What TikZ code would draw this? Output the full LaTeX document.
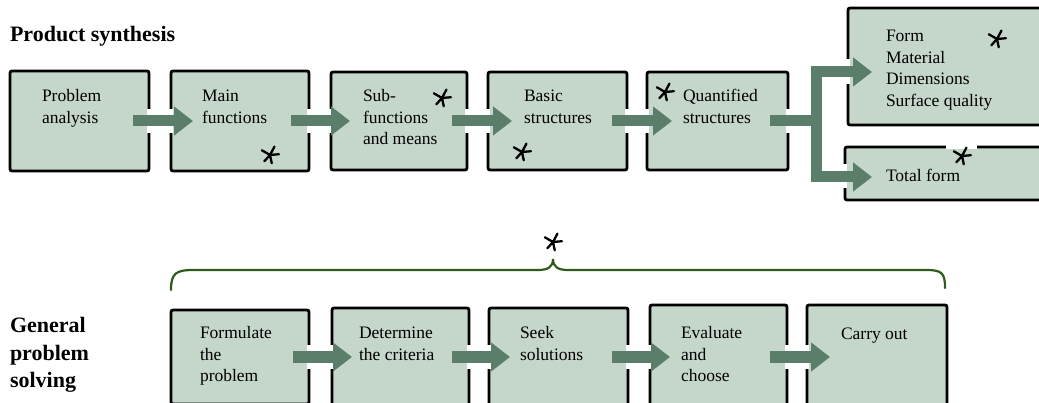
\documentclass[tikz,border=0pt]{standalone}
\usepackage{fontspec}
\setmainfont{Liberation Serif}
\usetikzlibrary{arrows.meta}

\definecolor{boxfill}{HTML}{C5D6CB}
\definecolor{flow}{HTML}{5B7E6A}
\definecolor{bracegreen}{HTML}{2F5A1C}

% several lines of text, baseline at the first line
\newcommand{\stacked}[1]{\parbox[t]{220pt}{\raggedright #1}}

\tikzset{
  stepbox/.style={draw=black, line width=2.8pt, fill=boxfill, rounded corners=2pt,
    inner sep=0pt, outer sep=0pt},
  boxtext/.style={anchor=base west, inner sep=0pt, outer sep=0pt,
    font=\fontsize{17.5}{21.5}\selectfont},
  headtext/.style={anchor=base west, inner sep=0pt, outer sep=0pt,
    font=\bfseries\fontsize{22}{27.5}\selectfont},
  flowarrow/.style={draw=flow, line width=11pt, line join=miter,
    -{Triangle[length=19pt,width=28pt]}},
  bordergap/.style={draw=white, line width=4.2pt},
  braceline/.style={draw=bracegreen, line width=2.2pt, line cap=round},
  sketchstar/.pic={
    \draw[line width=2.3pt, line cap=round]
      (0,0) -- (-62:9.5) (0,0) -- (-150:9.5) (0,0) -- (-5:9)
      (0,0) -- (-228:8.5) (0,0) -- (-282:8.5);
  }
}

\begin{document}
\begin{tikzpicture}[x=1pt, y=-1pt]
\useasboundingbox (0,0) rectangle (1039,403);
\clip (0,0) rectangle (1039,403);

% ---------- product synthesis ----------
\node[headtext] (title1) at (10,42) {Product synthesis};

\node[stepbox, minimum width=139pt, minimum height=100pt] (p1) at (79.5,121) {};
\node[stepbox, minimum width=138pt, minimum height=100pt] (p2) at (240,121) {};
\node[stepbox, minimum width=136pt, minimum height=98pt] (p3) at (399,121) {};
\node[stepbox, minimum width=139pt, minimum height=98pt] (p4) at (557.5,121) {};
\node[stepbox, minimum width=141pt, minimum height=98pt] (p5) at (717.5,121) {};
\node[stepbox, minimum width=212pt, minimum height=117pt] (p6) at (954,66.5) {};
\node[stepbox, minimum width=215pt, minimum height=53pt] (p7) at (952.5,173.5) {};

% ---------- general problem solving ----------
\node[headtext] (title2) at (10,333) {\stacked{General\\problem\\solving}};

\node[stepbox, minimum width=138pt, minimum height=94pt] (g1) at (240,357) {};
\node[stepbox, minimum width=137pt, minimum height=98pt] (g2) at (400.5,357) {};
\node[stepbox, minimum width=139pt, minimum height=98pt] (g3) at (558.5,357) {};
\node[stepbox, minimum width=137pt, minimum height=104pt] (g4) at (718.5,357) {};
\node[stepbox, minimum width=140pt, minimum height=104pt] (g5) at (877,357) {};

% breaks in the borders where the arrows pass
\foreach \b in {p1,p2,p3,p4,p5,g1,g2,g3,g4}
  \draw[bordergap] ([yshift=12pt]\b.east) -- ([yshift=-12pt]\b.east);
\foreach \b in {p2,p3,p4,p5,g2,g3,g4,g5}
  \draw[bordergap] ([yshift=12pt]\b.west) -- ([yshift=-12pt]\b.west);
\draw[bordergap] ([yshift=7pt]p6.west) -- ([yshift=-18pt]p6.west);
\draw[bordergap] ([yshift=9pt]p7.west) -- ([yshift=-15pt]p7.west);
\draw[bordergap] ([xshift=101pt]p7.north west) -- ([xshift=132pt]p7.north west);

% box texts
\node[boxtext] (t1) at (42,102) {\stacked{Problem\\analysis}};
\node[boxtext] (t2) at (202,102) {\stacked{Main\\functions}};
\node[boxtext] (t3) at (363,102) {\stacked{Sub-\\functions\\and means}};
\node[boxtext] (t4) at (524,102) {\stacked{Basic\\structures}};
\node[boxtext] (t5) at (683,102) {\stacked{Quantified\\structures}};
\node[boxtext] (t6) at (886,42) {\stacked{Form\\Material\\Dimensions\\Surface quality}};
\node[boxtext] (t7) at (886,182) {Total form};

\node[boxtext] (u1) at (200,339) {\stacked{Formulate\\the\\problem}};
\node[boxtext] (u2) at (359,339) {\stacked{Determine\\the criteria}};
\node[boxtext] (u3) at (520,339) {\stacked{Seek\\solutions}};
\node[boxtext] (u4) at (681,339) {\stacked{Evaluate\\and\\choose}};
\node[boxtext] (u5) at (841,340) {Carry out};

% flow arrows, top row
\draw[flowarrow] ([xshift=-16pt]p1.east) -- ([xshift=22pt]p2.west);
\draw[flowarrow] ([xshift=-18pt]p2.east) -- ([xshift=19pt]p3.west);
\draw[flowarrow] ([xshift=-15pt]p3.east) -- ([xshift=24pt]p4.west);
\draw[flowarrow] ([xshift=-15pt]p4.east) -- ([xshift=25pt]p5.west);
\coordinate (fork) at (816,121);
\draw[flowarrow] ([xshift=-18pt]p5.east) -- (fork) |- ([xshift=24pt,yshift=-5.5pt]p6.west);
\draw[flowarrow] (fork) |- ([xshift=27pt,yshift=-3.5pt]p7.west);

% flow arrows, bottom row
\draw[flowarrow] ([xshift=-16pt]g1.east) -- ([xshift=20pt]g2.west);
\draw[flowarrow] ([xshift=-17pt]g2.east) -- ([xshift=21pt]g3.west);
\draw[flowarrow] ([xshift=-16pt]g3.east) -- ([xshift=20pt]g4.west);
\draw[flowarrow] ([xshift=-17pt]g4.east) -- ([xshift=23pt]g5.west);

% brace over the problem-solving steps
\draw[braceline] (171,290) .. controls (171,273) and (176,270) .. (194,270)
  -- (538,270) .. controls (548,270) and (553,267) .. (553,259)
  .. controls (553,267) and (558,270) .. (568,270)
  -- (926,270) .. controls (942,270) and (945,273) .. (945,288);

% stars
\pic at (270,155) {sketchstar};
\pic at (442,98) {sketchstar};
\pic at (522,152) {sketchstar};
\pic at (665,92) {sketchstar};
\pic at (997,39) {sketchstar};
\pic at (962,156) {sketchstar};
\pic at (553,242) {sketchstar};
\end{tikzpicture}
\end{document}
